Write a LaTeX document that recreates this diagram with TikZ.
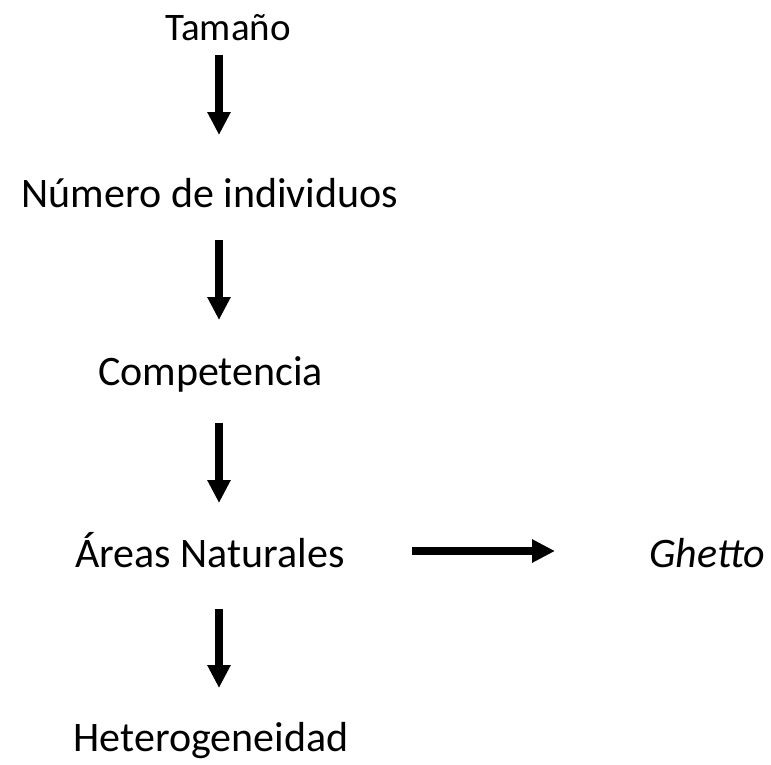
\documentclass[tikz,border=0pt]{standalone}
\usepackage{fontspec}
\setmainfont{Carlito}
\usetikzlibrary{arrows.meta}
\tikzset{
  lbl/.style={inner sep=0pt, anchor=base, font=\fontsize{42}{50}\selectfont},
  arr/.style={line width=8pt, -{Triangle[width=22pt,length=23pt]}}
}
\begin{document}
\begin{tikzpicture}[x=1pt,y=-1pt]
\fill[white] (0,0) rectangle (771,764);
\useasboundingbox (0,0) rectangle (771,764);
\node[lbl, font=\fontsize{39}{47}\selectfont] (t) at (228,40) {Tamaño};
\node[lbl] (n) at (210,207) {Número de individuos};
\node[lbl] (c) at (210.5,385) {Competencia};
\node[lbl] (a) at (210,567) {Áreas Naturales};
\node[lbl] (g) at (707,567) {\itshape Ghetto};
\node[lbl] (h) at (211,751) {Heterogeneidad};
\coordinate (a1s) at (219,55);  \coordinate (a1e) at (219,135);
\coordinate (a2s) at (219,240); \coordinate (a2e) at (219,320);
\coordinate (a3s) at (219,423); \coordinate (a3e) at (219,503);
\coordinate (a4s) at (219,609); \coordinate (a4e) at (219,688);
\coordinate (h1s) at (412,551); \coordinate (h1e) at (555,551);
\draw[arr] (a1s) -- (a1e);
\draw[arr] (a2s) -- (a2e);
\draw[arr] (a3s) -- (a3e);
\draw[arr] (a4s) -- (a4e);
\draw[arr] (h1s) -- (h1e);
\end{tikzpicture}
\end{document}
